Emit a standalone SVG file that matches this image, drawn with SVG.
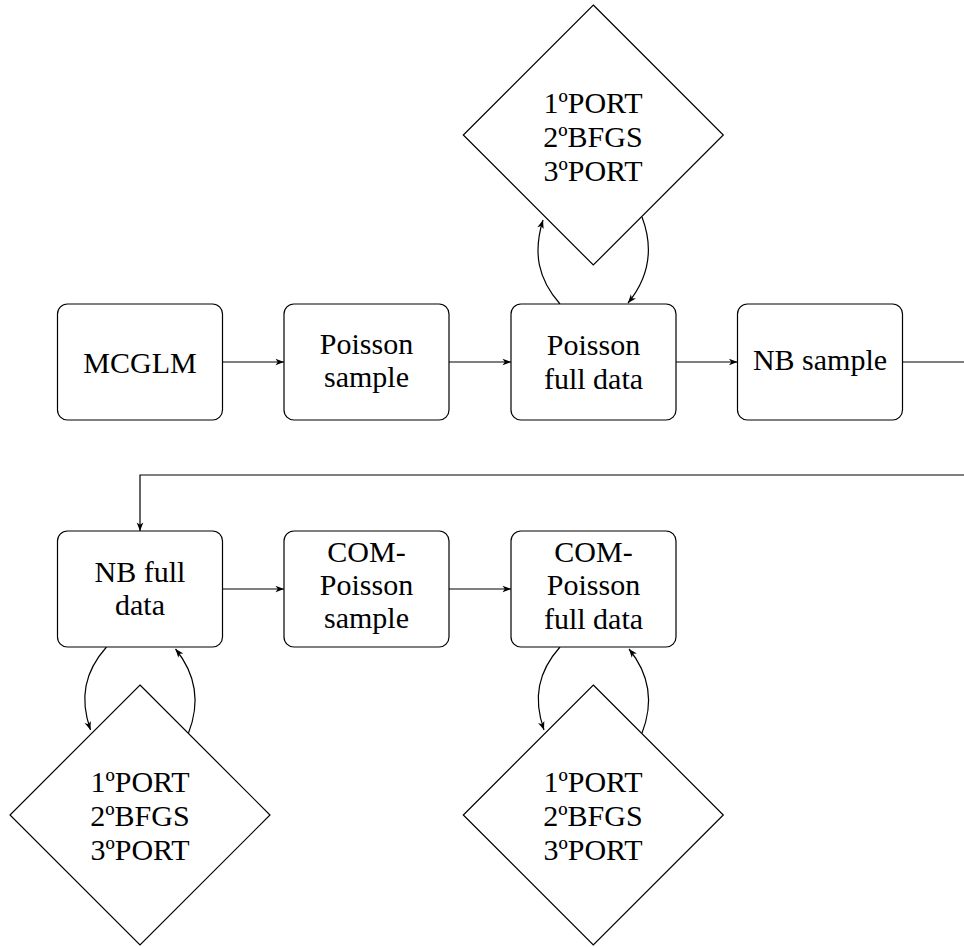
<svg xmlns="http://www.w3.org/2000/svg" width="964" height="947" viewBox="0 0 964 947" font-family="Liberation Serif, DejaVu Serif, serif">
<style>
.box{fill:#fff;stroke:#000;stroke-width:1.2}
.dia{fill:#fff;stroke:#000;stroke-width:1.2}
.t{font-size:30px;fill:#000;text-anchor:middle}
.c{fill:none;stroke:#000;stroke-width:1.2}
</style>
<defs>
<marker id="ah" viewBox="-10 -5 12 10" refX="0" refY="0" markerWidth="12" markerHeight="10" markerUnits="userSpaceOnUse" orient="auto">
<path d="M0,0 L-8.5,-3.3 L-6.2,0 L-8.5,3.3 Z" fill="#000"/>
</marker>
</defs>
<rect width="964" height="947" fill="#fff"/>
<g id="connectors">
<path class="c" d="M222.5,362 H284" marker-end="url(#ah)"/>
<path class="c" d="M449,362 H511" marker-end="url(#ah)"/>
<path class="c" d="M676,362 H737.5" marker-end="url(#ah)"/>
<path class="c" d="M902.5,362 H964"/>
<path class="c" d="M964,475 H140 V531" marker-end="url(#ah)"/>
<path class="c" d="M222.5,589 H284" marker-end="url(#ah)"/>
<path class="c" d="M449,589 H511" marker-end="url(#ah)"/>
<path class="c" d="M560,304 C538.2,279.5 532.7,253.1 543,220" marker-end="url(#ah)"/>
<path class="c" d="M642,217 C654,248.8 649.5,276.7 628,303" marker-end="url(#ah)"/>
<path class="c" d="M106.5,647 C84.7,671.5 79.2,697.9 90.5,730" marker-end="url(#ah)"/>
<path class="c" d="M188.5,733 C200.5,702.2 196,674.3 175.5,649" marker-end="url(#ah)"/>
<path class="c" d="M560,647 C538.2,671.5 532.7,697.9 544,730" marker-end="url(#ah)"/>
<path class="c" d="M642,733 C654,702.2 649.5,674.3 629,649" marker-end="url(#ah)"/>
</g>
<g id="mcglm">
<rect class="box" x="57.5" y="304" width="165" height="116" rx="10"/>
<text class="t" x="140" y="373">MCGLM</text>
</g>
<g id="poisson-sample">
<rect class="box" x="284" y="304" width="165" height="116" rx="10"/>
<text class="t" x="366.5" y="354">Poisson</text>
<text class="t" x="366.5" y="387">sample</text>
</g>
<g id="poisson-full">
<rect class="box" x="511" y="304" width="165" height="116" rx="10"/>
<text class="t" x="593.5" y="355">Poisson</text>
<text class="t" x="593.5" y="389">full data</text>
</g>
<g id="nb-sample">
<rect class="box" x="737.5" y="304" width="165" height="116" rx="10"/>
<text class="t" x="820" y="370">NB sample</text>
</g>
<g id="nb-full">
<rect class="box" x="57.5" y="531" width="165" height="116" rx="10"/>
<text class="t" x="140" y="582">NB full</text>
<text class="t" x="140" y="615">data</text>
</g>
<g id="com-sample">
<rect class="box" x="284" y="531" width="165" height="116" rx="10"/>
<text class="t" x="366.5" y="562">COM-</text>
<text class="t" x="366.5" y="595">Poisson</text>
<text class="t" x="366.5" y="628">sample</text>
</g>
<g id="com-full">
<rect class="box" x="511" y="531" width="165" height="116" rx="10"/>
<text class="t" x="593.5" y="562">COM-</text>
<text class="t" x="593.5" y="595">Poisson</text>
<text class="t" x="593.5" y="629">full data</text>
</g>
<g id="opt-top">
<polygon class="dia" points="593.3,5 723.3,135 593.3,265 463.3,135"/>
<text class="t" x="593" y="113">1ºPORT</text>
<text class="t" x="593" y="147">2ºBFGS</text>
<text class="t" x="593" y="181">3ºPORT</text>
</g>
<g id="opt-nb">
<polygon class="dia" points="140,685 270,815 140,945 10,815"/>
<text class="t" x="140" y="792">1ºPORT</text>
<text class="t" x="140" y="826">2ºBFGS</text>
<text class="t" x="140" y="860">3ºPORT</text>
</g>
<g id="opt-com">
<polygon class="dia" points="593.3,685 723.3,815 593.3,945 463.3,815"/>
<text class="t" x="593" y="792">1ºPORT</text>
<text class="t" x="593" y="826">2ºBFGS</text>
<text class="t" x="593" y="860">3ºPORT</text>
</g>
</svg>
